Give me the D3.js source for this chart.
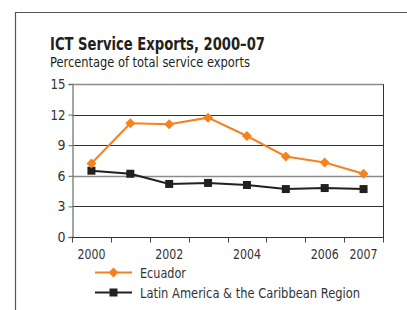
<!DOCTYPE html>
<html><head><meta charset="utf-8">
<script src="https://cdn.jsdelivr.net/npm/d3@7"></script>
<style>body{margin:0;background:#fff}svg{display:block}</style>
</head><body>
<svg id="c" width="407" height="310"></svg>
<script>
const years = ["2000","2001","2002","2003","2004","2005","2006","2007"];
const xLabels = ["2000","2002","2004","2006","2007"];
const ecuador = [7.2, 11.15, 11.05, 11.7, 9.9, 7.9, 7.3, 6.2];
const lac = [6.5, 6.2, 5.2, 5.3, 5.1, 4.7, 4.8, 4.7];
const yTicks = [0, 3, 6, 9, 12, 15];
const seriesNames = ["Ecuador", "Latin America & the Caribbean Region"];
const seriesColors = ["#F58220", "#231F20"];

const font = "'DejaVu Sans Condensed','Liberation Sans Narrow',sans-serif";
const svg = d3.select("#c");
const L = 72, R = 383, T = 84, B = 237;
const x = d3.scaleBand().domain(years).range([L, R]);
const y = d3.scaleLinear().domain([0, 15]).range([B, T]);

// outer frame
svg.append("path").attr("d", "M15.5,310 V12.5 H407").attr("fill","none").attr("stroke","#555").attr("stroke-width",1.2);

svg.append("text").attr("x",50).attr("y",50).attr("font-family",font).attr("font-weight","bold")
  .attr("font-size",17).attr("fill","#231F20").attr("textLength",215).attr("lengthAdjust","spacingAndGlyphs")
  .text("ICT Service Exports, 2000–07");
svg.append("text").attr("x",50).attr("y",67).attr("font-family",font)
  .attr("font-size",14).attr("fill","#231F20").attr("textLength",200).attr("lengthAdjust","spacingAndGlyphs")
  .text("Percentage of total service exports");

// gridlines
const g = svg.append("g");
yTicks.filter(d=>d>0).forEach(d=>{
  g.append("line").attr("x1",L).attr("x2",R).attr("y1",Math.round(y(d))+0.5).attr("y2",Math.round(y(d))+0.5)
   .attr("stroke", (d===15||d===6)?"#8a8a8a":"#333").attr("stroke-width",(d===15||d===6)?1.5:1);
});
// right border
g.append("line").attr("x1",R+0.5).attr("x2",R+0.5).attr("y1",T).attr("y2",B).attr("stroke","#333");

// y axis
const yAxis = d3.axisLeft(y).tickValues(yTicks).tickSize(4).tickPadding(3);
const ya = svg.append("g").attr("transform",`translate(${L+0.5},0)`).call(yAxis);
ya.select(".domain").attr("stroke","#888").attr("stroke-width",1.5);
ya.selectAll(".tick line").attr("stroke","#666");
ya.selectAll("text").attr("font-family",font).attr("font-size",14).attr("fill","#333")
  .attr("textLength",15).attr("lengthAdjust","spacingAndGlyphs").filter(d=>d<10).attr("textLength",8);

// x axis
const xa = svg.append("g").attr("transform",`translate(0,${B+0.5})`);
xa.append("line").attr("x1",L).attr("x2",R+1).attr("y1",0).attr("y2",0).attr("stroke","#333").attr("stroke-width",1.2);
const bounds = years.map(d=>x(d)).concat([R]);
xa.selectAll(".xt").data(bounds).join("line").attr("x1",d=>Math.round(d)+0.5).attr("x2",d=>Math.round(d)+0.5)
  .attr("y1",0).attr("y2",5).attr("stroke","#444");
xa.selectAll(".xl").data(xLabels).join("text").attr("x",d=>x(d)+x.bandwidth()/2).attr("y",21)
  .attr("text-anchor","middle").attr("font-family",font).attr("font-size",14).attr("fill","#333")
  .attr("textLength",28).attr("lengthAdjust","spacingAndGlyphs").text(d=>d);

// lines
const line = d3.line().x((d,i)=>x(years[i])+x.bandwidth()/2).y(d=>y(d));
const diamond = d3.symbol().type(d3.symbolSquare).size(50);
const square = d3.symbol().type(d3.symbolSquare).size(64);

svg.append("path").datum(lac).attr("d",line).attr("fill","none").attr("stroke",seriesColors[1]).attr("stroke-width",2);
svg.selectAll(".sq").data(lac).join("path").attr("d",square)
  .attr("transform",(d,i)=>`translate(${x(years[i])+x.bandwidth()/2},${y(d)})`).attr("fill",seriesColors[1]);

svg.append("path").datum(ecuador).attr("d",line).attr("fill","none").attr("stroke",seriesColors[0]).attr("stroke-width",2);
svg.selectAll(".dm").data(ecuador).join("path").attr("d",diamond)
  .attr("transform",(d,i)=>`translate(${x(years[i])+x.bandwidth()/2},${y(d)}) rotate(45)`).attr("fill",seriesColors[0]);

// legend
const legLen = [46, 220];
const leg = svg.append("g");
[0,1].forEach(i=>{
  const yy = 272.5 + i*20;
  leg.append("line").attr("x1",95).attr("x2",132).attr("y1",yy).attr("y2",yy).attr("stroke",seriesColors[i]).attr("stroke-width",2);
  leg.append("path").attr("d", i===0 ? diamond : square).attr("transform",`translate(113.5,${yy})` + (i===0?" rotate(45)":"")).attr("fill",seriesColors[i]);
  leg.append("text").attr("x",140).attr("y",yy+5).attr("font-family",font).attr("font-size",14).attr("fill","#333")
    .attr("textLength",legLen[i]).attr("lengthAdjust","spacingAndGlyphs").text(seriesNames[i]);
});
</script>
</body></html>
